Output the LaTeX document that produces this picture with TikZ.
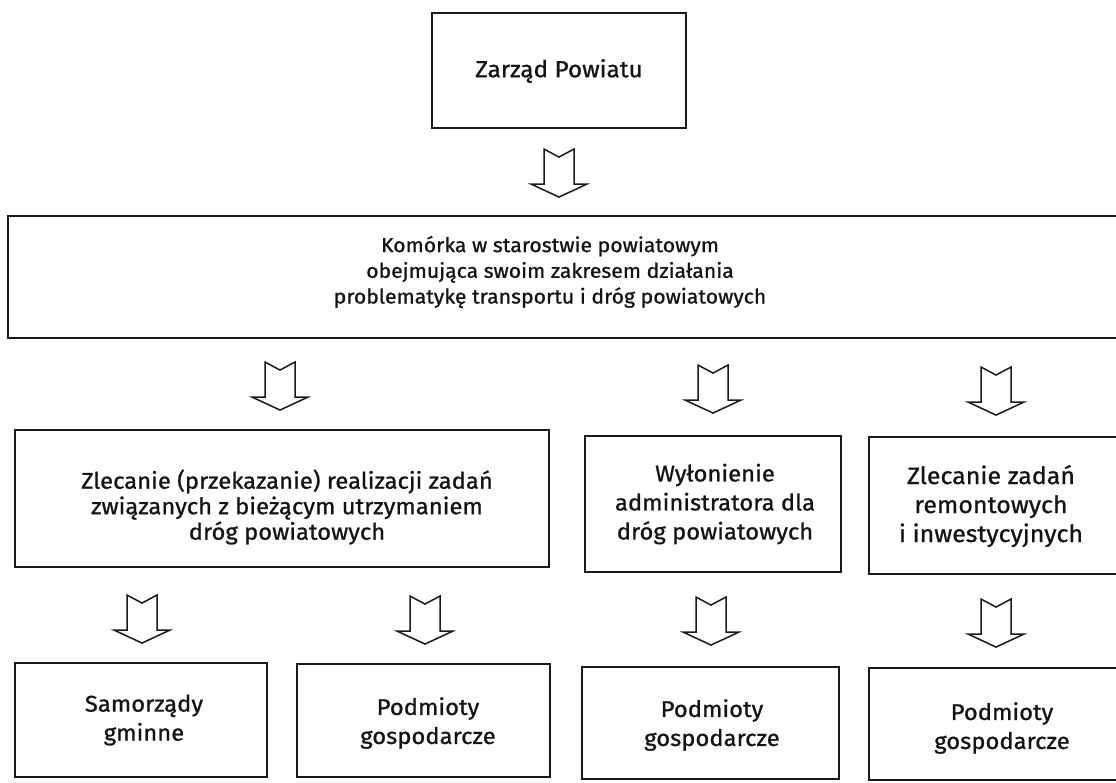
\documentclass[tikz,border=0pt]{standalone}
\usepackage{fontspec}
\newfontfamily\dfont[FakeStretch=1.05,FakeBold=0.9]{Fira Sans}
\usetikzlibrary{calc}
\begin{document}
\begin{tikzpicture}[x=1pt,y=-1pt,
  box/.style={draw=black!90, line width=1.9pt, inner sep=0pt, fill=white},
  lbl/.style={align=center, inner sep=0pt, text=black!92, font=\dfont\fontsize{22.7}{25.5}\selectfont},
  lblz/.style={lbl, font=\dfont\fontsize{23.2}{25.5}\selectfont},
  lblk/.style={lbl, font=\dfont\fontsize{20.2}{25.7}\selectfont},
  lblw/.style={lbl, font=\dfont\fontsize{22.7}{29}\selectfont},
  lblc/.style={lbl, font=\dfont\fontsize{23.8}{29}\selectfont},
  pics/barrow/.style={code={
    \draw[line width=1.5pt, draw=black!90, fill=white, line join=miter]
      (0,0) -- (-28,-13) -- (-15,-13) -- (-15,-48) -- (0,-40) -- (15,-48)
      -- (15,-13) -- (28,-13) -- cycle;}}]
\fill[white] (0,0) rectangle (1116,782);
\useasboundingbox (0,0) rectangle (1116,782);

% boxes
\node[box, minimum width=254pt, minimum height=115pt] (zp) at (559,70.5) {};
\node[box, minimum width=1114pt, minimum height=122pt] (kom) at (565,277) {};
\node[box, minimum width=534pt, minimum height=137pt] (za) at (282,498.5) {};
\node[box, minimum width=256pt, minimum height=136pt] (zb) at (713,504) {};
\node[box, minimum width=261pt, minimum height=137pt] (zc) at (999.5,505.5) {};
\node[box, minimum width=252pt, minimum height=114pt] (sg) at (141,720) {};
\node[box, minimum width=253pt, minimum height=113pt] (pa) at (423.5,720.5) {};
\node[box, minimum width=257pt, minimum height=112pt] (pb) at (710.5,723) {};
\node[box, minimum width=266pt, minimum height=112pt] (pc) at (1002,724) {};

% texts
\node[lblz] (zpt) at (559,71) {Zarząd Powiatu};
\node[lblk] (komt) at (550,272) {Komórka w starostwie powiatowym\\obejmująca swoim zakresem działania\\problematykę transportu i dróg powiatowych};
\node[lbl] (zat) at (287,507) {Zlecanie (przekazanie) realizacji zadań\\związanych z bieżącym utrzymaniem\\dróg powiatowych};
\node[lblw] (zbt) at (715,504) {Wyłonienie\\administratora dla\\dróg powiatowych};
\node[lblc] (zct) at (991,506) {Zlecanie zadań\\remontowych\\i inwestycyjnych};
\node[lblw] (sgt) at (144,720) {Samorządy\\gminne};
\node[lblw] (pat) at (428,723) {Podmioty\\gospodarcze};
\node[lblw] (pbt) at (712,725) {Podmioty\\gospodarcze};
\node[lblw] (pct) at (1002,728) {Podmioty\\gospodarcze};

% block arrows
\pic at ($(zp.south |- kom.north)+(0,-18)$) {barrow};
\pic at ($(za.north)+(-2,-19)$) {barrow};
\pic at ($(zb.north)+(0,-22)$) {barrow};
\pic at ($(zc.north)+(-3.5,-21)$) {barrow};
\pic at ($(sg.north)+(1,-19)$) {barrow};
\pic at ($(pa.north)+(1.5,-19)$) {barrow};
\pic at ($(pb.north)+(0.5,-21)$) {barrow};
\pic at ($(pc.north)+(-6,-20)$) {barrow};
\end{tikzpicture}
\end{document}
